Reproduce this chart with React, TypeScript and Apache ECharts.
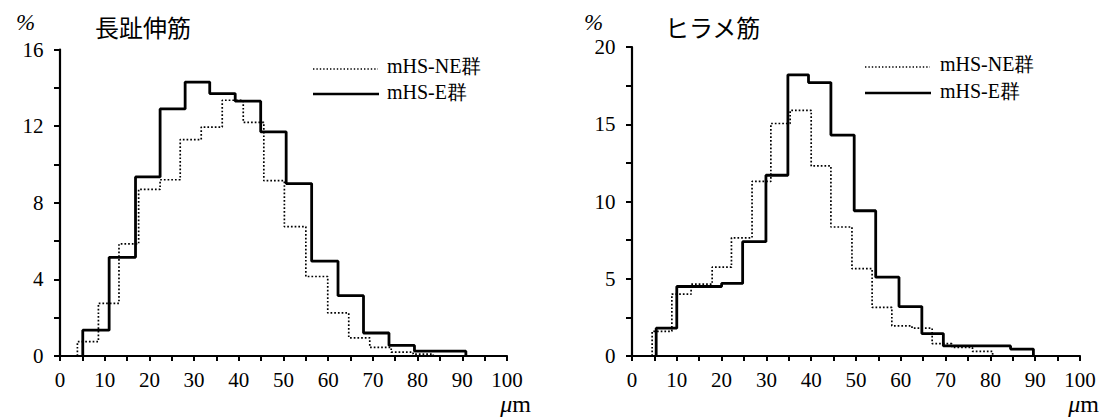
import React, { useEffect, useRef } from "react";
import * as echarts from "echarts";

// x axis ticks / labels (µm)
const xTickValues = [0, 5, 10, 15, 20, 25, 30, 35, 40, 45, 50, 55, 60, 65, 70, 75, 80, 85, 90, 95, 100];
const xLabelValues = [0, 10, 20, 30, 40, 50, 60, 70, 80, 90, 100];

// 長趾伸筋 (left panel)
const leftEdgesNE = [3.9, 8.6, 13.2, 17.6, 22.4, 26.9, 31.6, 36.3, 41.0, 45.6, 50.2, 55.0, 59.9, 64.6, 69.3, 74.1, 79.0, 83.5];
const leftValuesNE = [0.75, 2.75, 5.85, 8.7, 9.2, 11.3, 11.95, 13.35, 12.2, 9.15, 6.75, 4.15, 2.25, 0.95, 0.45, 0.2, 0.1];
const leftEdgesE = [5.1, 11.0, 16.9, 22.4, 28.0, 33.5, 39.2, 44.9, 50.6, 56.3, 62.2, 67.9, 73.6, 79.3, 85.0, 90.8];
const leftValuesE = [1.35, 5.15, 9.35, 12.9, 14.3, 13.7, 13.3, 11.7, 9.0, 4.95, 3.15, 1.2, 0.55, 0.25, 0.25];

// ヒラメ筋 (right panel)
const rightEdgesNE = [4.5, 8.9, 13.2, 17.9, 22.2, 26.8, 31.0, 35.3, 40.0, 44.4, 49.1, 53.6, 58.0, 62.5, 67.0, 71.4, 76.0, 80.5];
const rightValuesNE = [1.6, 4.0, 4.65, 5.75, 7.65, 11.3, 15.05, 15.9, 12.3, 8.35, 5.65, 3.15, 1.95, 1.8, 0.8, 0.55, 0.3];
const rightEdgesE = [5.4, 10.0, 15.0, 20.0, 24.7, 29.9, 34.8, 39.4, 44.4, 49.6, 54.4, 59.6, 64.7, 69.5, 74.5, 79.5, 84.5, 89.6];
const rightValuesE = [1.8, 4.5, 4.5, 4.7, 7.4, 11.7, 18.2, 17.7, 14.3, 9.4, 5.1, 3.2, 1.45, 0.65, 0.65, 0.65, 0.45];

const titles = ["長趾伸筋", "ヒラメ筋"];
const seriesNames = ["mHS-NE群", "mHS-E群"];

const SERIF = "Liberation Serif";
const CJK = "Noto Sans CJK JP";

function histData(edges: number[], values: number[]) {
  const pts: number[][] = [[edges[0], 0]];
  values.forEach((v, i) => pts.push([edges[i], v]));
  pts.push([edges[edges.length - 1], 0]);
  return pts;
}

function xAxisFor(gridIndex: number) {
  return {
    type: "value",
    gridIndex,
    min: -1,
    max: 100,
    axisLine: { show: true, onZero: false, lineStyle: { color: "#000", width: 2.2 } },
    axisTick: { show: true, customValues: xTickValues, length: 5, lineStyle: { color: "#000", width: 2 } },
    axisLabel: { customValues: xLabelValues, color: "#000", fontSize: 21, fontFamily: SERIF, margin: 13 },
    splitLine: { show: false },
  };
}

function yAxisFor(gridIndex: number, max: number, interval: number, labelStep: number) {
  return {
    type: "value",
    gridIndex,
    min: 0,
    max,
    interval,
    axisLine: { show: true, lineStyle: { color: "#000", width: 2.2 } },
    axisTick: { show: true, length: 6, lineStyle: { color: "#000", width: 2 } },
    axisLabel: {
      color: "#000",
      fontSize: 21,
      fontFamily: SERIF,
      margin: 12,
      formatter: (v: number) => (Math.abs(v / labelStep - Math.round(v / labelStep)) < 1e-6 ? String(v) : ""),
    },
    splitLine: { show: false },
  };
}

function lineSeries(name: string, idx: number, data: number[][], dotted: boolean) {
  return {
    name,
    type: "line",
    xAxisIndex: idx,
    yAxisIndex: idx,
    step: "end",
    symbol: "none",
    data,
    z: dotted ? 2 : 3,
    lineStyle: dotted
      ? { color: "#000", width: 1.7, type: [1.7, 2.0] }
      : { color: "#000", width: 2.8, type: "solid" },
  };
}

function txt(x: number, y: number, text: string, size: number, family: string, extra: any = {}) {
  return {
    type: "text",
    x,
    y,
    style: { text, fontSize: size, fontFamily: family, fill: "#000", verticalAlign: "middle", ...extra },
  };
}

function legendGraphics(lineX: number, textX: number, y1: number, y2: number) {
  return [
    { type: "line", shape: { x1: lineX, y1: y1 + 3, x2: lineX + 65, y2: y1 + 3 }, style: { stroke: "#000", lineWidth: 1.4, lineDash: [1.4, 2] } },
    txt(textX, y1, seriesNames[0], 20, SERIF),
    { type: "line", shape: { x1: lineX, y1: y2 + 2, x2: lineX + 66, y2: y2 + 2 }, style: { stroke: "#000", lineWidth: 2.4 } },
    txt(textX, y2, seriesNames[1], 20, SERIF),
  ];
}

function headerGraphics(pctX: number, titleX: number, unitRight: number, title: string) {
  return [
    txt(pctX, 22, "%", 23, SERIF, { fontStyle: "italic" }),
    txt(titleX, 26, title, 24, CJK),
    {
      type: "text",
      x: unitRight,
      y: 404,
      style: {
        text: "{i|μ}{m|m}",
        align: "right",
        verticalAlign: "middle",
        fontSize: 24,
        fontFamily: SERIF,
        fill: "#000",
        rich: {
          i: { fontStyle: "italic", fontSize: 24, fontFamily: SERIF, fill: "#000" },
          m: { fontSize: 24, fontFamily: SERIF, fill: "#000" },
        },
      },
    },
  ];
}

export default function App() {
  const ref = useRef<HTMLDivElement>(null);
  useEffect(() => {
    if (!ref.current) return;
    const chart = echarts.init(ref.current, null, { renderer: "svg" });
    chart.setOption({
      animation: false,
      backgroundColor: "#fff",
      grid: [
        { left: 55.5, top: 49.5, width: 451.5, height: 306.5 },
        { left: 627.5, top: 47, width: 452.5, height: 309 },
      ],
      xAxis: [xAxisFor(0), xAxisFor(1)],
      yAxis: [yAxisFor(0, 16, 2, 4), yAxisFor(1, 20, 2.5, 5)],
      series: [
        lineSeries(seriesNames[0], 0, histData(leftEdgesNE, leftValuesNE), true),
        lineSeries(seriesNames[1], 0, histData(leftEdgesE, leftValuesE), false),
        lineSeries(seriesNames[0], 1, histData(rightEdgesNE, rightValuesNE), true),
        lineSeries(seriesNames[1], 1, histData(rightEdgesE, rightValuesE), false),
      ],
      graphic: [
        ...headerGraphics(16, 95, 531, titles[0]),
        ...headerGraphics(584, 665, 1099, titles[1]),
        ...legendGraphics(313, 387, 66, 92),
        ...legendGraphics(865, 940, 64, 91),
      ],
    });
    return () => chart.dispose();
  }, []);
  return <div ref={ref} style={{ width: 1105, height: 419, position: "absolute", left: 0, top: 0 }} />;
}
